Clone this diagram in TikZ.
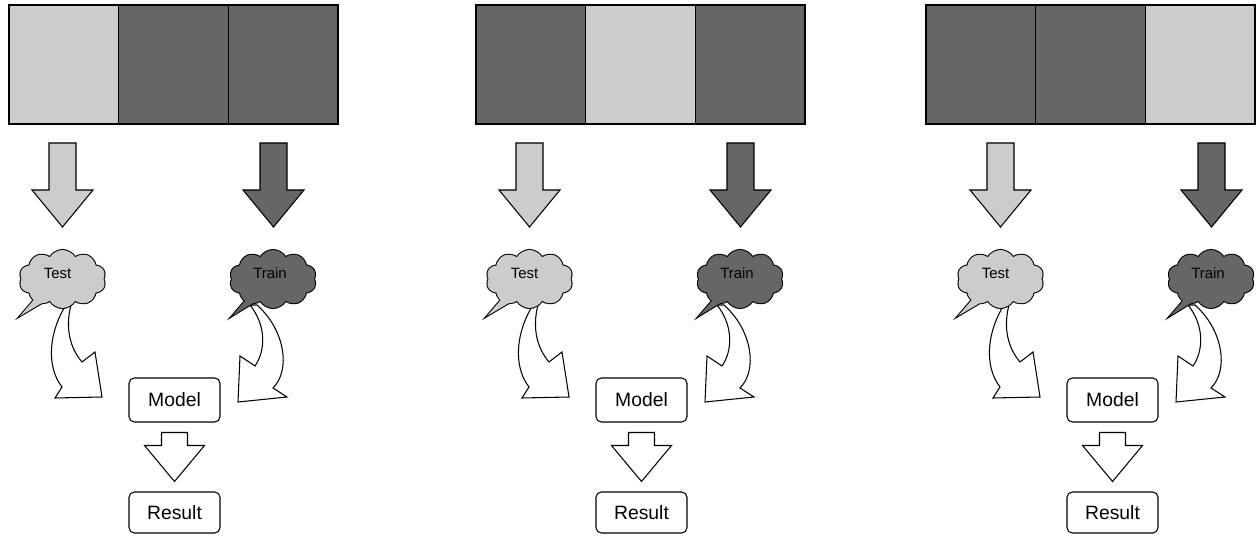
\documentclass[tikz,border=0pt]{standalone}
\usepackage{fontspec}
\setmainfont{Liberation Sans}
\usetikzlibrary{positioning,shapes.symbols,calc}
\definecolor{lightgrey}{HTML}{CCCCCC}
\definecolor{darkgrey}{HTML}{666666}
\tikzstyle{cell}=[%
      rectangle, draw=black, line width=0.8pt, outer sep=0pt, inner sep=0pt,
      minimum width=2.194cm, minimum height=2.38cm
]
\tikzstyle{bubble}=[%
      cloud, cloud puffs=10, cloud puff arc=120, aspect=1.5, draw=none,
      minimum width=1.72cm, minimum height=1.16cm, inner sep=0pt
]
\tikzstyle{box}=[%
      rectangle, rounded corners=3pt, draw=black, line width=0.6pt, fill=white,
      minimum width=1.82cm, minimum height=0.88cm, font=\fontsize{11}{13}\selectfont
]
\tikzstyle{lbl}=[inner sep=0pt, font=\fontsize{8.5}{10}\selectfont]
\tikzstyle{blk}=[draw=black, line width=0.6pt, line join=miter]
\newcommand{\blockdown}[5]{%
  \filldraw[blk, fill=#5] (#1-13.5,#2) -- (#1+13.5,#2) -- (#1+13.5,#3) -- (#1+30.5,#3)
      -- (#1,#4) -- (#1-30.5,#3) -- (#1-13.5,#3) -- cycle;}

\begin{document}
\begin{tikzpicture}[x=0.02cm, y=-0.02cm]
  \useasboundingbox (0,0) rectangle (1257,536);

  \foreach \bx/\ox/\fa/\fb/\fc [count=\i] in {9/0/lightgrey/darkgrey/darkgrey,
      476/467/darkgrey/lightgrey/darkgrey, 926/938/darkgrey/darkgrey/lightgrey}{
    % the three folds
    \node[cell, fill=\fa] (cell\i-a) at (\bx+54.85,64.5) {};
    \node[cell, fill=\fb, right=0pt of cell\i-a] (cell\i-b) {};
    \node[cell, fill=\fc, right=0pt of cell\i-b] (cell\i-c) {};

    \blockdown{\ox+62.5}{143}{190}{227}{lightgrey}
    \blockdown{\ox+273.5}{143}{190}{227}{darkgrey}

    % curved arrows
    \filldraw[blk, fill=white] (\ox+66,305) .. controls (\ox+50,330) and (\ox+45,365) .. (\ox+62,387)
        -- (\ox+55,398) -- (\ox+102,397) -- (\ox+95,352) -- (\ox+82,362)
        .. controls (\ox+70,348) and (\ox+65,328) .. (\ox+71,305) -- cycle;
    \filldraw[blk, fill=white] (\ox+257,305) .. controls (\ox+285,330) and (\ox+291,370) .. (\ox+273,388)
        -- (\ox+287,397) -- (\ox+238,402) -- (\ox+240,356) -- (\ox+255,366)
        .. controls (\ox+266,350) and (\ox+266,325) .. (\ox+250,305) -- cycle;

    % clouds
    \draw[line width=1.2pt, line join=miter] (\ox+38,295) -- (\ox+20,316) -- (\ox+47,300);
    \node[bubble, fill=lightgrey, preaction={draw=black, line width=1.2pt}] (test\i) at (\ox+62.5,279) {};
    \fill[lightgrey] (\ox+38,295) -- (\ox+20,316) -- (\ox+47,300) -- cycle;
    \node[lbl] (testlbl\i) at ($(test\i)+(-5,-6)$) {Test};

    \draw[line width=1.2pt, line join=miter] (\ox+250,295) -- (\ox+232,316) -- (\ox+258,300);
    \node[bubble, fill=darkgrey, preaction={draw=black, line width=1.2pt}] (train\i) at (\ox+273,279) {};
    \fill[darkgrey] (\ox+250,295) -- (\ox+232,316) -- (\ox+258,300) -- cycle;
    \node[lbl] (trainlbl\i) at ($(train\i)+(-3,-6)$) {Train};

    % model and result
    \node[box] (model\i) at (\ox+174.5,400) {Model};
    \node[box, minimum height=0.82cm] (result\i) at (\ox+174.5,512.5) {Result};
    \path ($(model\i.south)+(0,10)$) coordinate (mtop\i)
          ($(result\i.north)+(0,-10)$) coordinate (mtip\i);
    \filldraw[blk, fill=white] ($(mtop\i)+(-13,0)$) -- ($(mtop\i)+(13,0)$) -- ($(mtop\i)+(13,13)$)
        -- ($(mtop\i)+(30,13)$) -- (mtip\i) -- ($(mtop\i)+(-30,13)$) -- ($(mtop\i)+(-13,13)$) -- cycle;
  }
\end{tikzpicture}
\end{document}
